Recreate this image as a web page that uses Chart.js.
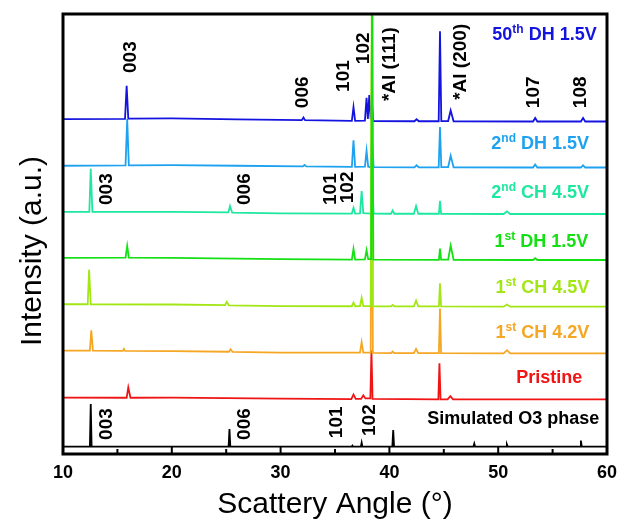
<!DOCTYPE html>
<html>
<head>
<meta charset="utf-8">
<script src="https://cdn.jsdelivr.net/npm/chart.js@4.4.1/dist/chart.umd.min.js"></script>
<style>
  html, body { margin: 0; padding: 0; background: #fff; }
  #wrap { width: 619px; height: 523px; }
</style>
</head>
<body>
<div id="wrap"><canvas id="xrdChart"></canvas></div>
<script>
// XRD patterns: [2theta (deg), intensity above the trace baseline (a.u.)]
const simulated = [[10,0],[12.47,0],[12.55,9.7],[12.63,0],[25.22,0],[25.3,4.0],[25.38,0],[36.53,0],[36.6,0.25],[36.67,0],
  [37.38,0],[37.45,0.9],[37.52,0],[40.27,0],[40.35,3.8],[40.43,0],[47.72,0],[47.8,0.7],[47.88,0],[50.72,0],[50.8,0.5],[50.88,0],
  [57.52,0],[57.6,1.4],[57.68,0],[60,0]];
const pristine = [[10,0.4],[15.85,0.35],[16.0,2.7],[16.2,0.35],[20,0.4],[30,0.15],[36.5,0.05],[36.7,1.1],[36.9,0.1],[37.4,0.1],
  [37.6,0.9],[37.8,0.2],[38.25,0.2],[38.35,11.1],[38.45,0.1],[44.5,0],[44.6,8.2],[44.7,0],[45.35,0],[45.6,0.7],[45.85,0],[60,0]];
const ch42_1 = [[10,0.6],[12.47,0.6],[12.6,5.2],[12.75,0.6],[15.5,0.55],[15.6,1.0],[15.7,0.55],[20,0.5],[25.25,0.35],[25.4,0.9],
  [25.6,0.3],[30,0.15],[37.3,0.15],[37.45,2.5],[37.6,0.15],[38.28,0.15],[38.38,70],[38.48,0.1],[40.15,0.05],[40.3,0.4],[40.45,0.05],
  [42.25,0.05],[42.45,1.0],[42.65,0.05],[44.55,0.05],[44.65,10.2],[44.75,0.05],[50.5,0],[50.8,0.7],[51.1,0],[60,0]];
const ch45_1 = [[10,0.55],[12.27,0.55],[12.4,8.4],[12.55,0.55],[20,0.5],[24.9,0.35],[25.05,1.1],[25.25,0.3],[30,0.15],[36.55,0.1],
  [36.7,0.9],[36.85,0.1],[37.3,0.15],[37.45,2.0],[37.6,0.15],[38.28,0.15],[38.38,70],[38.48,0.1],[40.15,0.05],[40.3,0.4],[40.45,0.05],
  [42.25,0.05],[42.45,1.4],[42.65,0.05],[44.55,0.05],[44.65,5.3],[44.75,0.05],[50.5,0],[50.8,0.5],[51.1,0],[60,0]];
const dh15_1 = [[10,0.5],[15.75,0.55],[15.9,3.2],[16.05,0.55],[20,0.5],[30,0.2],[36.55,0.1],[36.7,2.5],[36.85,0.1],[37.75,0.15],
  [37.9,2.2],[38.05,0.2],[38.32,0.2],[38.42,70],[38.52,0.1],[44.55,0.05],[44.65,2.6],[44.75,0.1],[45.4,0.1],[45.63,3.3],[45.9,0.05],
  [53.2,0],[53.4,0.4],[53.6,0],[60,0]];
const ch45_2 = [[10,0.5],[12.42,0.5],[12.55,10.3],[12.7,0.5],[20,0.5],[25.2,0.35],[25.35,1.8],[25.55,0.3],[30,0.15],[36.55,0.1],
  [36.7,1.4],[36.85,0.1],[37.3,0.15],[37.45,5.2],[37.6,0.2],[38.3,0.1],[38.4,8],[38.55,0.1],[40.15,0.05],[40.3,0.8],[40.45,0.05],
  [42.25,0.05],[42.45,1.8],[42.65,0.05],[44.55,0.05],[44.65,3.0],[44.75,0.05],[50.5,0],[50.8,0.6],[51.1,0],[60,0]];
const dh15_2 = [[10,0.4],[15.75,0.5],[15.9,11],[16.05,0.5],[20,0.55],[26,0.4],[32.05,0.25],[32.2,0.6],[32.35,0.25],[36.55,0.15],
  [36.7,6.2],[36.85,0.15],[37.75,0.2],[37.9,3.8],[38.05,0.2],[38.3,0.1],[38.4,6],[38.55,0.1],[42.3,0.05],[42.5,0.5],[42.7,0.05],
  [44.53,0.05],[44.65,9.2],[44.77,0.1],[45.4,0.1],[45.63,2.7],[45.9,0.05],[53.2,0],[53.4,0.7],[53.6,0],[57.6,0],[57.8,0.5],[58,0],[60,0]];
const dh15_50 = [[10,0.55],[15.7,0.6],[15.85,8.1],[16.0,0.65],[20,0.7],[26,0.5],[31.95,0.3],[32.1,0.9],[32.25,0.3],[36.55,0.15],
  [36.7,3.25],[36.85,0.15],[37.75,0.2],[37.9,5.4],[38.02,0.6],[38.15,6.0],[38.28,0.5],[38.4,4],[38.52,0.1],[42.3,0.05],[42.5,0.5],
  [42.7,0.05],[44.53,0.05],[44.65,20.5],[44.77,0.1],[45.4,0.1],[45.63,2.5],[45.9,0.05],[53.2,0],[53.4,0.8],[53.6,0],[57.6,0],
  [57.8,0.8],[58,0],[60,0]];

// vertical stacking offset of each pattern
const baselines = [1.66, 12.43, 22.89, 33.48, 44.09, 54.55, 65.11, 75.57];
const patterns = [simulated, pristine, ch42_1, ch45_1, dh15_1, ch45_2, dh15_2, dh15_50];
const traceNames = [['Simulated O3 phase', '', ''], ['Pristine', '', ''], ['1', 'st', ' CH 4.2V'], ['1', 'st', ' CH 4.5V'],
  ['1', 'st', ' DH 1.5V'], ['2', 'nd', ' CH 4.5V'], ['2', 'nd', ' DH 1.5V'], ['50', 'th', ' DH 1.5V']];
const tickLabels = ['10', '20', '30', '40', '50', '60'];

const colors = ['#000000', '#f01414', '#f5a623', '#a2e614', '#14e014', '#1ee8a0', '#1ea2f0', '#1414e0'];
const drawOrder = [7, 6, 2, 1, 0, 5, 4, 3];
// label anchors: [right edge deg, baseline a.u.]
const nameAnchors = [[59.3, 6.75], [57.73, 16.07], [58.37, 26.3], [58.37, 36.7], [58.28, 47.1], [58.35, 58.1], [58.35, 69.25], [59.05, 94.0]];
const millerLabels = [
  ['003', 16.25, 86.6], ['006', 32.03, 78.6], ['101', 35.76, 82.3], ['102', 37.6, 88.6],
  ['*Al (111)', 40.05, 80.2], ['*Al (200)', 46.55, 80.5], ['107', 53.3, 78.6], ['108', 57.6, 78.6],
  ['003', 14.0, 56.6], ['006', 26.7, 56.6], ['101', 34.6, 56.6], ['102', 36.2, 57.0],
  ['003', 14.0, 3.2], ['006', 26.7, 3.2], ['101', 35.15, 3.6], ['102', 38.15, 4.1]
];

const FONT = '"Liberation Sans", Arial, sans-serif';

const annotate = {
  id: 'annotate',
  afterDatasetsDraw(chart) {
    const {ctx, chartArea: a, scales: {x, y}} = chart;
    ctx.save();
    // frame + inward ticks
    ctx.strokeStyle = '#000';
    ctx.lineWidth = 3;
    ctx.strokeRect(a.left, a.top, a.right - a.left, a.bottom - a.top);
    ctx.lineWidth = 2;
    for (let v = 10; v <= 60; v += 5) {
      const px = x.getPixelForValue(v);
      ctx.beginPath();
      ctx.moveTo(px, a.bottom);
      ctx.lineTo(px, a.bottom - (v % 10 === 0 ? 7 : 5));
      ctx.stroke();
    }
    // miller indices, rotated
    ctx.fillStyle = '#000';
    ctx.font = 'bold 19px ' + FONT;
    ctx.textAlign = 'left';
    ctx.textBaseline = 'middle';
    millerLabels.forEach(([t, ang, v]) => {
      ctx.save();
      ctx.translate(x.getPixelForValue(ang), y.getPixelForValue(v));
      ctx.rotate(-Math.PI / 2);
      ctx.fillText(t, 0, 0);
      ctx.restore();
    });
    // trace names with superscripts
    ctx.textBaseline = 'alphabetic';
    const big = 'bold 18px ' + FONT, small = 'bold 12px ' + FONT;
    traceNames.forEach((parts, i) => {
      const right = x.getPixelForValue(nameAnchors[i][0]);
      const base = y.getPixelForValue(nameAnchors[i][1]);
      ctx.font = big;
      const w1 = ctx.measureText(parts[0]).width, w3 = ctx.measureText(parts[2]).width;
      ctx.font = small;
      const w2 = ctx.measureText(parts[1]).width;
      let px = right - (w1 + w2 + w3);
      ctx.fillStyle = colors[i];
      ctx.font = big; ctx.fillText(parts[0], px, base); px += w1;
      ctx.font = small; ctx.fillText(parts[1], px, base - 7); px += w2;
      ctx.font = big; ctx.fillText(parts[2], px, base);
    });
    // y title
    ctx.fillStyle = '#000';
    ctx.font = '30px ' + FONT;
    ctx.textAlign = 'center';
    ctx.textBaseline = 'middle';
    ctx.translate(33, 251);
    ctx.rotate(-Math.PI / 2);
    ctx.fillText('Intensity (a.u.)', 0, 0);
    ctx.restore();
  }
};

new Chart(document.getElementById('xrdChart'), {
  type: 'line',
  data: {
    datasets: patterns.map((pts, i) => ({
      label: traceNames[i].join(''),
      data: pts.map(([ang, v]) => ({x: ang, y: v + baselines[i]})),
      borderColor: colors[i],
      borderWidth: 1.8,
      pointRadius: 0,
      tension: 0,
      fill: false,
      order: drawOrder[i]
    }))
  },
  options: {
    responsive: true,
    maintainAspectRatio: false,
    animation: false,
    layout: { padding: { top: 14, right: 12, left: 0, bottom: 0 } },
    plugins: { legend: { display: false }, tooltip: { enabled: false } },
    scales: {
      x: {
        type: 'linear', min: 10, max: 60,
        grid: { display: false, drawTicks: false },
        border: { display: false },
        ticks: {
          stepSize: 10, padding: 8, color: '#000', maxRotation: 0,
          font: { family: FONT, size: 18, weight: 'bold' },
          callback: v => tickLabels[(v - 10) / 10]
        },
        title: { display: true, text: 'Scattery Angle (°)', color: '#000', font: { family: FONT, size: 30 }, padding: { top: 0, bottom: 0 } },
        afterFit: s => { s.height = 69; s.paddingLeft = 0; s.paddingRight = 0; }
      },
      y: {
        min: 0, max: 100,
        grid: { display: false, drawTicks: false },
        border: { display: false },
        ticks: { display: false },
        afterFit: s => { s.width = 63; s.paddingTop = 0; s.paddingBottom = 0; }
      }
    }
  },
  plugins: [annotate]
});
</script>
</body>
</html>
